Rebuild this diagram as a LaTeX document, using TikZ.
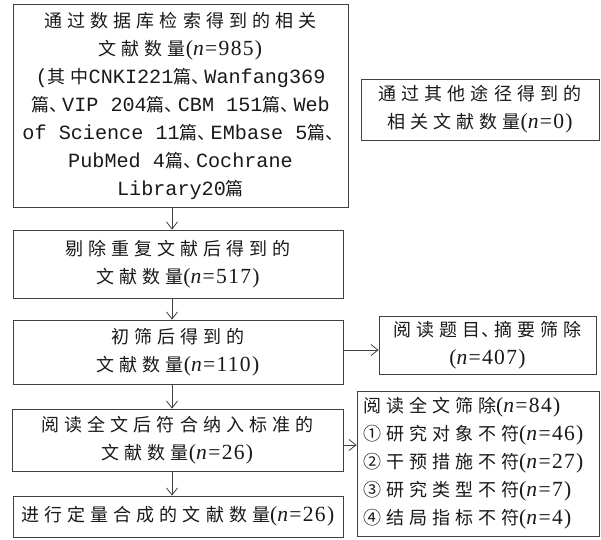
\documentclass[tikz,border=0pt]{standalone}
\usepackage{fontspec}
\setmainfont{Noto Sans CJK SC}[LetterSpace=28]
\newfontfamily\lat{Liberation Serif}[LetterSpace=6,Scale=1.2]
\newfontfamily\mono{Liberation Mono}[Scale=1.12]
\usetikzlibrary{arrows.meta}
\newcommand\nn[1]{{\lat(\textit{n}=#1)}}
\newcommand\mo[1]{{\mono #1}}
\newcommand\dun{\makebox[13pt][l]{、}}
\tikzset{
  box/.style={draw=black!75, line width=0.8pt, inner sep=0pt, text=black!90,
    font=\fontsize{18}{28}\selectfont},
  arr/.style={draw=black!75, line width=0.8pt, -{Straight Barb[length=7pt,width=11pt]}}
}
\begin{document}
\begin{tikzpicture}[x=1pt,y=-1pt]
\useasboundingbox (0,0) rectangle (601,539);
\node[box, minimum width=335, minimum height=203, align=center] (b1) at (180.5,105.5)
 {通过数据库检索得到的相关\\
  文献数量\nn{985}\\
  \mo{(}其中\mo{CNKI221}篇\dun\mo{Wanfang369}\\
  篇\dun\mo{VIP 204}篇\dun\mo{CBM 151}篇\dun\mo{Web}\\
  \mo{of Science 11}篇\dun\mo{EMbase 5}篇\dun\\
  \mo{PubMed 4}篇\dun\mo{Cochrane}\\
  \mo{Library20}篇};
\node[box, minimum width=238, minimum height=61, align=center] (oth) at (480,109.5)
 {通过其他途径得到的\\相关文献数量\nn{0}};
\node[box, minimum width=330, minimum height=68, align=center] (b2) at (178,264)
 {剔除重复文献后得到的\\文献数量\nn{517}};
\node[box, minimum width=330, minimum height=64, align=center] (b3) at (178,352)
 {初筛后得到的\\文献数量\nn{110}};
\node[box, minimum width=217, minimum height=58, align=center] (r1) at (487.5,345)
 {阅读题目\dun 摘要筛除\\\nn{407}};
\node[box, minimum width=331, minimum height=62, align=center] (b4) at (177.5,440)
 {阅读全文后符合纳入标准的\\文献数量\nn{26}};
\node[box, minimum width=242, minimum height=145, align=left, text width=230] (r2) at (478,463.5)
 {阅读全文筛除\nn{84}\\
  ①研究对象不符\nn{46}\\
  ②干预措施不符\nn{27}\\
  ③研究类型不符\nn{7}\\
  ④结局指标不符\nn{4}};
\node[box, minimum width=330, minimum height=41, align=center] (b5) at (178,516.5)
 {进行定量合成的文献数量\nn{26}};
\coordinate (vx) at (172,0);
\coordinate (h1) at (0,350);
\coordinate (h2) at (0,445);
\draw[arr] (b1.south -| vx) -- (b2.north -| vx);
\draw[arr] (b2.south -| vx) -- (b3.north -| vx);
\draw[arr] (b3.south -| vx) -- (b4.north -| vx);
\draw[arr] (b4.south -| vx) -- (b5.north -| vx);
\draw[arr] (b3.east |- h1) -- (r1.west |- h1);
\draw[arr] (b4.east |- h2) -- (r2.west |- h2);
\end{tikzpicture}
\end{document}
